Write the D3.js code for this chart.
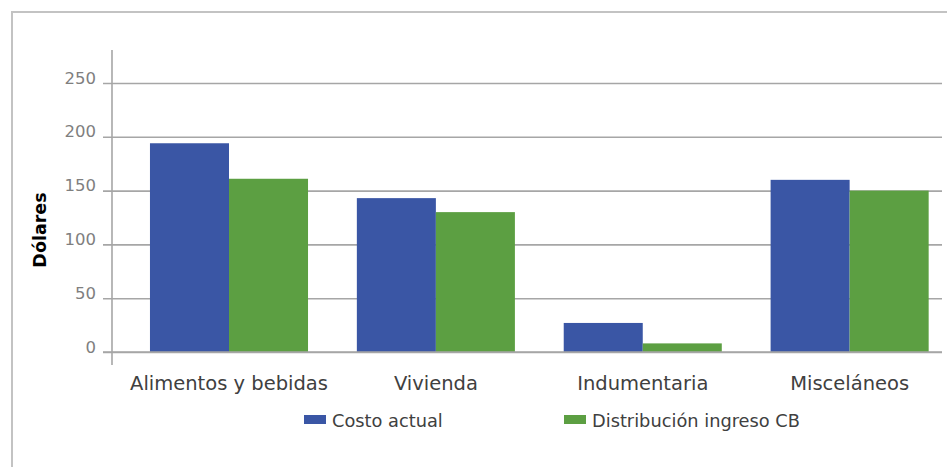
<!DOCTYPE html>
<html>
<head>
<meta charset="utf-8">
<script src="https://cdn.jsdelivr.net/npm/d3@7"></script>
<style>
  html, body { margin: 0; padding: 0; background: #ffffff; }
  svg { display: block; }
</style>
</head>
<body>
<svg id="chart" width="947" height="467"></svg>
<script>
const categories = ["Alimentos y bebidas", "Vivienda", "Indumentaria", "Misceláneos"];
const seriesNames = ["Costo actual", "Distribución ingreso CB"];
const costoActual = [194, 143, 27, 160];
const distribucionIngreso = [161, 130, 8, 150];
const yTicks = [0, 50, 100, 150, 200, 250];
const colors = ["#3A56A5", "#5C9F42"];

const seriesValues = [costoActual, distribucionIngreso];

const svg = d3.select("#chart");
const font = "'DejaVu Sans', sans-serif";

// outer border (cropped at right/bottom)
svg.append("rect")
  .attr("x", 12).attr("y", 12)
  .attr("width", 1000).attr("height", 1000)
  .attr("fill", "none").attr("stroke", "#c3c3c3").attr("stroke-width", 2);

const axisX = 112, plotRight = 942, tickLeft = 103;

const y = d3.scaleLinear().domain([0, 250]).range([352, 83]);

const x0 = d3.scaleBand().domain(categories)
  .range([axisX, plotRight])
  .paddingInner(0.236).paddingOuter(0.124).align(0.74);
const x1 = d3.scaleBand().domain(seriesNames).range([0, x0.bandwidth()]);

// y axis with gridlines
const yAxisG = svg.append("g")
  .attr("transform", `translate(${tickLeft},0)`)
  .call(d3.axisLeft(y).tickValues(yTicks).tickSize(-(plotRight - tickLeft)).tickPadding(7));
yAxisG.select(".domain").remove();
yAxisG.selectAll(".tick line").attr("stroke", "#a6a6a6").attr("stroke-width", 1.6);
yAxisG.selectAll(".tick text")
  .attr("dy", "0")
  .attr("fill", "#7f7f7f")
  .style("font-family", font)
  .style("font-size", "16.5px");

// bars
const groups = svg.append("g").selectAll("g")
  .data(categories)
  .join("g")
  .attr("transform", d => `translate(${x0(d)},0)`);

groups.selectAll("rect")
  .data((d, i) => seriesNames.map((s, j) => ({ s, v: seriesValues[j][i], j })))
  .join("rect")
  .attr("x", d => x1(d.s))
  .attr("width", x1.bandwidth())
  .attr("y", d => y(d.v))
  .attr("height", d => y(0) - y(d.v))
  .attr("fill", d => colors[d.j]);

// redraw baseline on top of bars
svg.append("line")
  .attr("x1", tickLeft).attr("x2", plotRight)
  .attr("y1", y(0)).attr("y2", y(0))
  .attr("stroke", "#a6a6a6").attr("stroke-width", 1.6);

// vertical axis line
svg.append("line")
  .attr("x1", axisX).attr("x2", axisX)
  .attr("y1", 50).attr("y2", 365)
  .attr("stroke", "#a6a6a6").attr("stroke-width", 1.6);

// category labels
svg.append("g").selectAll("text")
  .data(categories)
  .join("text")
  .attr("x", d => x0(d) + x0.bandwidth() / 2)
  .attr("y", 390)
  .attr("text-anchor", "middle")
  .attr("fill", "#404040")
  .style("font-family", font)
  .style("font-size", "19.5px")
  .text(d => d);

// y axis title
svg.append("text")
  .attr("transform", "translate(46,230) rotate(-90)")
  .attr("text-anchor", "middle")
  .attr("fill", "#000")
  .style("font-family", font)
  .style("font-weight", "bold")
  .style("font-size", "17.5px")
  .text("Dólares");

// legend
const legendX = [304, 564];
const legend = svg.append("g").selectAll("g")
  .data(seriesNames)
  .join("g")
  .attr("transform", (d, i) => `translate(${legendX[i]},415)`);
legend.append("rect")
  .attr("width", 22).attr("height", 9)
  .attr("fill", (d, i) => colors[i]);
legend.append("text")
  .attr("x", 28).attr("y", 12)
  .attr("fill", "#404040")
  .style("font-family", font)
  .style("font-size", "17.8px")
  .text(d => d);
</script>
</body>
</html>
